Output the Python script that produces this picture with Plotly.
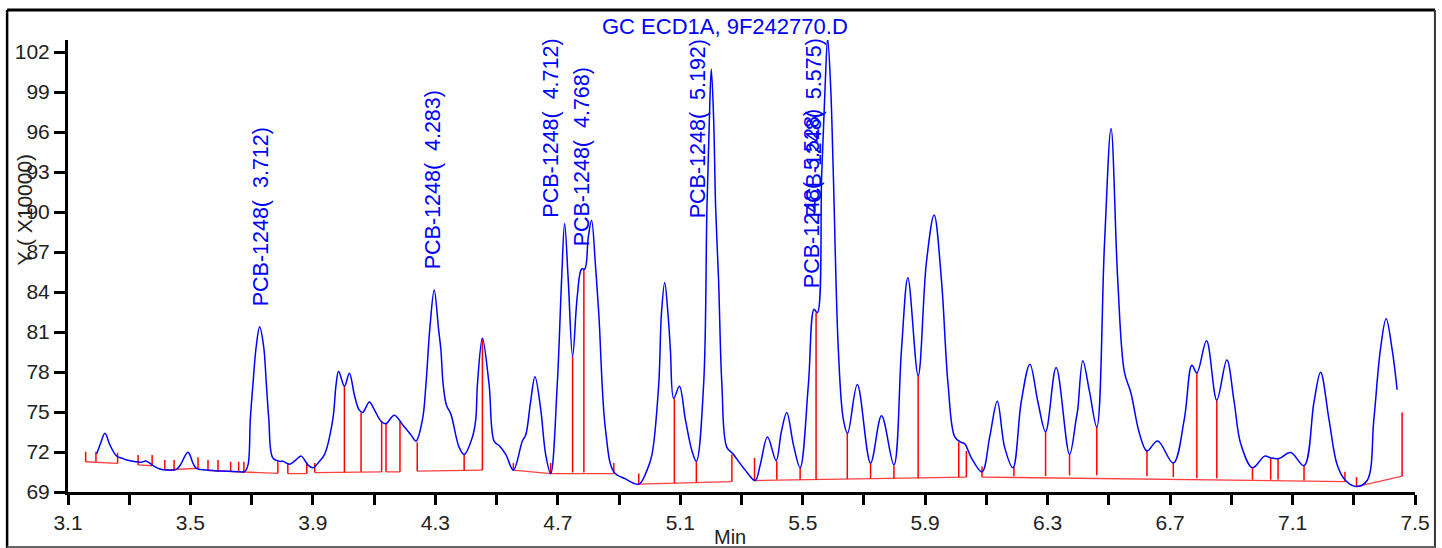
import plotly.graph_objects as go

# ---------------- data ----------------
# retention time (min) and detector response (x10000)
trace_t = [3.194, 3.2065, 3.2206, 3.2369, 3.2587, 3.28, 3.291, 3.324, 3.340, 3.354, 3.3836, 3.40,
           3.4217, 3.454, 3.467, 3.492, 3.5084, 3.5195, 3.552, 3.58, 3.617, 3.66, 3.677, 3.688,
           3.6955, 3.704, 3.715, 3.726, 3.7389, 3.748, 3.756, 3.769, 3.791, 3.802, 3.824, 3.8454,
           3.862, 3.8833, 3.90, 3.9214, 3.938, 3.965, 3.9757, 3.984, 4.003, 4.019, 4.0355, 4.05,
           4.0625, 4.0844, 4.10, 4.1225, 4.1388, 4.1658, 4.1929, 4.22, 4.2366, 4.258, 4.2692, 4.282,
           4.2962, 4.3102, 4.318, 4.3255, 4.3363, 4.3507, 4.3777, 4.394, 4.4211, 4.432, 4.4374, 4.4537,
           4.4755, 4.4918, 4.5081, 4.5299, 4.5547, 4.5841, 4.5951, 4.611, 4.6254, 4.644, 4.6603, 4.6766,
           4.6981, 4.7124, 4.7222, 4.734, 4.7483, 4.7633, 4.7776, 4.788, 4.7993, 4.8102, 4.823, 4.834,
           4.8558, 4.8829, 4.921, 4.9644, 4.9915, 5.0077, 5.0296, 5.0383, 5.0491, 5.06, 5.0677, 5.0785,
           5.0971, 5.1166, 5.1382, 5.1525, 5.1763, 5.187, 5.1948, 5.2013, 5.209, 5.2156, 5.2251, 5.2359,
           5.2522, 5.274, 5.2903, 5.3122, 5.3448, 5.3611, 5.3849, 5.4132, 5.43, 5.4478, 5.47, 5.4914,
           5.5185, 5.5371, 5.5478, 5.5619, 5.573, 5.5814, 5.5913, 5.60, 5.6163, 5.6326, 5.6466, 5.6782,
           5.7216, 5.7574, 5.7978, 5.8226, 5.8435, 5.877, 5.9041, 5.9292, 5.953, 5.9748, 5.9967, 6.0162,
           6.0293, 6.0508, 6.0857, 6.1108, 6.1355, 6.1596, 6.1867, 6.2137, 6.2421, 6.2682, 6.2933, 6.3278,
           6.3715, 6.393, 6.3986, 6.4149, 6.4367, 6.4605, 6.4856, 6.5071, 6.5289, 6.5508, 6.5723, 6.5997,
           6.6244, 6.6593, 6.7105, 6.7463, 6.7711, 6.7874, 6.819, 6.8526, 6.8852, 6.9093, 6.9308, 6.969,
           7.009, 7.0286, 7.056, 7.0938, 7.1375, 7.17, 7.1916, 7.219, 7.246, 7.2731, 7.3089, 7.3438,
           7.3656, 7.3871, 7.4057, 7.4253, 7.4416]
trace_v = [71.87, 72.65, 73.40, 72.53, 71.70, 71.50, 71.40, 71.27, 71.23, 71.33, 70.90, 70.73,
           70.65, 70.70, 71.03, 71.98, 71.15, 70.78, 70.65, 70.60, 70.56, 70.52, 70.52, 71.03,
           74.45, 77.06, 79.95, 81.39, 79.95, 77.06, 74.45, 71.56, 71.30, 71.30, 71.09, 71.43,
           71.69, 71.03, 70.82, 71.30, 71.82, 74.45, 77.06, 78.06, 76.93, 77.90, 76.28, 75.20,
           74.97, 75.75, 75.20, 74.31, 74.13, 74.76, 74.05, 73.30, 72.82, 74.45, 77.06, 81.27,
           84.15, 81.27, 79.69, 77.06, 75.50, 74.84, 72.35, 71.82, 73.13, 74.45, 77.06, 80.53,
           77.06, 72.82, 72.48, 71.82, 70.64, 72.82, 73.27, 75.75, 77.64, 75.23, 71.82, 70.38,
           77.06, 84.93, 89.13, 84.93, 79.17, 83.62, 85.72, 85.72, 88.08, 89.39, 85.98, 82.31,
           73.66, 70.51, 69.98, 69.59, 70.64, 71.82, 77.06, 82.31, 84.72, 82.31, 79.69, 76.02,
           76.93, 74.45, 72.08, 71.30, 77.06, 90.18, 96.73, 100.72, 97.0, 90.3, 84.93, 77.06,
           72.35, 71.82, 71.30, 70.64, 69.86, 71.03, 73.13, 71.35, 73.5, 74.97, 72.5, 70.82,
           77.06, 82.70, 82.44, 92.80, 99.35, 103.03, 99.35, 92.80, 79.69, 74.45, 73.40, 77.06,
           71.17, 74.71, 71.03, 79.69, 85.06, 77.72, 86.25, 89.78, 84.93, 77.06, 73.13, 72.74,
           72.61, 71.56, 70.51, 73.13, 75.81, 72.35, 70.82, 75.75, 78.59, 75.75, 73.52, 78.33,
           71.82, 74.45, 75.23, 78.85, 76.54, 73.87, 87.55, 96.26, 84.93, 77.99, 76.41, 73.40,
           72.08, 72.82, 71.17, 74.45, 78.51, 77.93, 80.34, 75.89, 78.90, 75.75, 72.61, 70.82,
           71.69, 71.56, 71.51, 71.96, 70.98, 75.75, 77.99, 74.45, 71.03, 69.86, 69.41, 69.86,
           74.45, 79.69, 81.99, 79.69, 76.67]

# integration baselines (segments, each a list of (time, response))
baselines = [
    [(3.1577, 71.27), (3.262, 71.15)],
    [(3.329, 71.03), (3.3748, 70.97)],
    [(3.4162, 70.65), (3.5247, 70.78)],
    [(3.5573, 70.60), (3.7855, 70.40)],
    [(3.818, 70.38), (3.88, 70.38)],
    [(3.906, 70.46), (4.1245, 70.51)],
    [(4.1388, 70.51), (4.1844, 70.51)],
    [(4.2408, 70.56), (4.4536, 70.64)],
    [(4.5547, 70.64), (4.6766, 70.38), (4.8829, 70.38)],
    [(4.9644, 69.59), (5.2685, 69.78)],
    [(5.3425, 69.86), (6.0345, 70.12)],
    [(6.0856, 70.12), (7.2711, 69.78)],
    [(7.3089, 69.41), (7.4579, 70.19)],
]

# peak start/stop and drop-line marks: time, bottom, top
mark_t = [3.1577, 3.1913, 3.262, 3.329, 3.3748, 3.4162, 3.4465, 3.5247, 3.5573, 3.5899, 3.6313,
          3.6574, 3.6746, 3.7855, 3.818, 3.88, 3.906, 4.0029, 4.0573, 4.1245, 4.1388, 4.1844,
          4.2408, 4.394, 4.4536, 4.5547, 4.6766, 4.7483, 4.7851, 4.8829, 4.9644, 5.0807, 5.1525,
          5.2685, 5.3425, 5.4152, 5.4915, 5.5436, 5.6456, 5.7216, 5.7979, 5.877, 6.0097, 6.0345,
          6.0856, 6.1899, 6.2933, 6.3715, 6.4605, 6.6244, 6.7105, 6.7874, 6.8526, 6.969, 7.0286,
          7.0527, 7.1375, 7.2711, 7.3089, 7.4579]
mark_lo = [71.27, 71.27, 71.15, 71.03, 70.97, 70.65, 70.60, 70.78, 70.60, 70.60, 70.50,
           70.50, 70.45, 70.40, 70.38, 70.38, 70.46, 70.46, 70.51, 70.51, 70.51, 70.51,
           70.56, 70.64, 70.64, 70.64, 70.38, 70.46, 70.46, 70.38, 69.59, 69.68, 69.73,
           69.78, 69.86, 69.93, 69.93, 69.93, 69.99, 69.99, 70.04, 70.04, 70.12, 70.12,
           70.12, 70.19, 70.19, 70.25, 70.25, 70.19, 70.12, 70.04, 70.04, 69.93, 69.93,
           69.93, 69.86, 69.78, 69.41, 70.19]
mark_hi = [72.02, 72.02, 71.95, 71.78, 71.78, 71.40, 71.40, 71.60, 71.40, 71.40, 71.27,
           71.27, 71.27, 71.27, 71.17, 71.24, 71.17, 76.94, 74.97, 74.31, 74.13, 74.31,
           72.74, 71.82, 80.53, 71.17, 71.18, 79.17, 85.72, 71.17, 70.38, 76.01, 71.30,
           71.82, 71.56, 71.30, 70.82, 82.44, 73.40, 71.17, 70.98, 77.72, 72.74, 72.08,
           70.91, 70.91, 73.52, 71.82, 73.87, 72.08, 71.17, 77.93, 75.89, 70.82, 71.56,
           71.51, 70.98, 70.51, 70.12, 74.97]

# identified peaks: label text, label anchor (time, response at label foot)
peak_labels = ["PCB-1248(  3.712)", "PCB-1248(  4.283)", "PCB-1248(  4.712)", "PCB-1248(  4.768)",
               "PCB-1248(  5.192)", "PCB-1248(  5.528)", "PCB-1248(  5.575)"]
label_t = [3.729, 4.293, 4.6786, 4.7776, 5.1577, 5.5293, 5.5371]
label_v = [82.78, 85.53, 89.41, 87.28, 89.41, 84.15, 89.41]

x_range = [3.1, 7.5]
y_range = [69, 102.9]
chart_title = "GC ECD1A, 9F242770.D"
y_title = "Y ( X10000)"
x_title = "Min"

# ---------------- figure ----------------
BLUE = "rgb(0,0,255)"
FONT = "Liberation Sans, Arial, sans-serif"

fig = go.Figure()

bx, by = [], []
for seg in baselines:
    for t, v in seg:
        bx.append(t)
        by.append(v)
    bx.append(None)
    by.append(None)
fig.add_trace(go.Scatter(x=bx, y=by, mode="lines",
                         line=dict(color="rgba(255,0,0,0.75)", width=1.3),
                         hoverinfo="skip", showlegend=False))

mx, my = [], []
for t, lo, hi in zip(mark_t, mark_lo, mark_hi):
    mx += [t, t, None]
    my += [lo, hi, None]
fig.add_trace(go.Scatter(x=mx, y=my, mode="lines",
                         line=dict(color="rgb(255,0,0)", width=1.5),
                         hoverinfo="skip", showlegend=False))

fig.add_trace(go.Scatter(x=trace_t, y=trace_v, mode="lines",
                         line=dict(color=BLUE, width=1.5, shape="spline", smoothing=1.0),
                         showlegend=False))

for txt, t, v in zip(peak_labels, label_t, label_v):
    fig.add_annotation(x=t, y=v, xref="x", yref="y", text=txt, textangle=-90,
                       showarrow=False, xanchor="center", yanchor="bottom",
                       font=dict(family=FONT, size=21.5, color=BLUE))

fig.add_annotation(x=0.488, y=1.0294, xref="paper", yref="paper", text=chart_title,
                   showarrow=False, xanchor="center", yanchor="middle",
                   font=dict(family=FONT, size=22, color=BLUE))
fig.add_annotation(x=-0.0322, y=0.624, xref="paper", yref="paper", text=y_title,
                   textangle=-90, showarrow=False, xanchor="center", yanchor="middle",
                   font=dict(family=FONT, size=21, color="#222"))
fig.add_annotation(x=0.4916, y=-0.0990, xref="paper", yref="paper", text=x_title,
                   showarrow=False, xanchor="center", yanchor="middle",
                   font=dict(family=FONT, size=20, color="#222"))

# outer frame
frame = dict(xref="paper", yref="paper", type="line", layer="above")
fig.add_shape(**frame, x0=-0.0452, x1=1.0148, y0=1.0664, y1=1.0664, line=dict(color="black", width=3))
fig.add_shape(**frame, x0=-0.0452, x1=-0.0452, y0=1.0664, y1=-0.125, line=dict(color="black", width=2.5))
fig.add_shape(**frame, x0=1.0148, x1=1.0148, y0=1.0664, y1=-0.125, line=dict(color="#333", width=2))
fig.add_shape(**frame, x0=-0.0452, x1=1.0148, y0=-0.1217, y1=-0.1217, line=dict(color="#666", width=2))

fig.update_layout(
    width=1442, height=548,
    margin=dict(l=68, r=24, t=40, b=56),
    paper_bgcolor="white", plot_bgcolor="white",
    font=dict(family=FONT, size=21, color="#222"),
    xaxis=dict(range=x_range, tick0=3.1, dtick=0.4, showgrid=False, zeroline=False,
               showline=True, linecolor="black", linewidth=3,
               ticks="outside", ticklen=10, tickwidth=2.5, tickcolor="black",
               tickfont=dict(size=21, color="#222"),
               minor=dict(dtick=0.2, tick0=3.1, ticks="outside", ticklen=10,
                          tickwidth=2.5, tickcolor="black", showgrid=False)),
    yaxis=dict(range=y_range, tick0=69, dtick=3, showgrid=False, zeroline=False,
               showline=True, linecolor="black", linewidth=3,
               ticks="outside", ticklen=11, tickwidth=2.5, tickcolor="black",
               tickfont=dict(size=21, color="#222")),
)

# remove the default page margin so the figure sits at the window's top-left corner
fig.write_html("out.html", config={"displayModeBar": False},
               post_script="document.body.style.margin='0';document.body.style.overflow='hidden';")
